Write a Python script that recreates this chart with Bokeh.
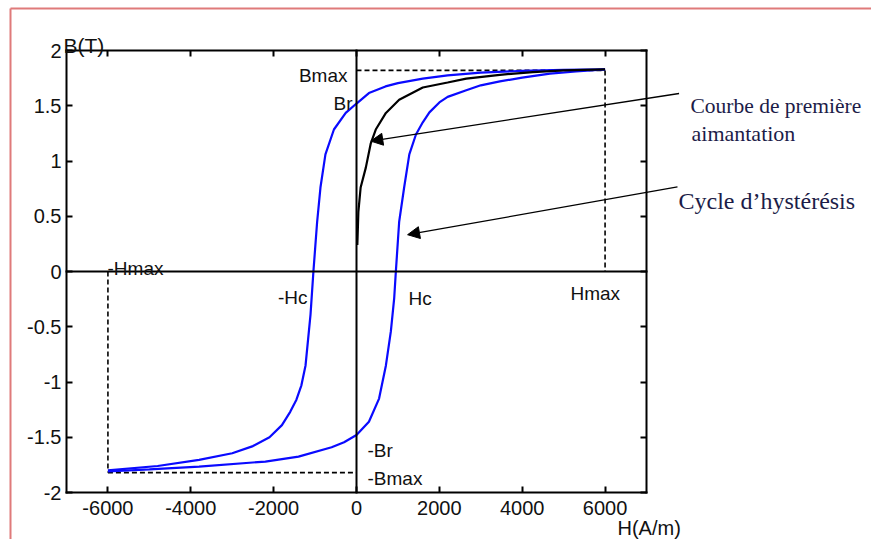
from bokeh.plotting import figure
from bokeh.models import (Range1d, FixedTicker, LinearAxis, Label, Arrow,
                          NormalHead, CustomJSTickFormatter)
from bokeh.embed import file_html
from bokeh.resources import INLINE

# ---------------- data ----------------
# descending (upper) branch of the hysteresis cycle
H_up = [6000, 5000, 4000, 3000, 2200, 1600, 1000, 700, 300, 0, -260, -545, -750, -870,
        -950, -1000, -1040, -1110, -1230, -1330, -1450, -1600, -1800, -2100, -2500,
        -3000, -3800, -4800, -6000]
B_up = [1.83, 1.825, 1.815, 1.80, 1.775, 1.745, 1.705, 1.675, 1.615, 1.52, 1.435, 1.285,
        1.06, 0.76, 0.45, 0.20, 0.0, -0.39, -0.85, -1.03, -1.16, -1.27, -1.39, -1.50,
        -1.58, -1.645, -1.705, -1.76, -1.80]
# ascending (lower) branch of the hysteresis cycle
H_lo = [-6000, -5000, -3800, -2200, -1400, -600, -300, 0, 300, 545, 710, 830, 910, 950,
        1030, 1150, 1275, 1435, 1600, 1760, 2000, 2200, 2650, 3000, 3460, 4000, 4670,
        5300, 6000]
B_lo = [-1.81, -1.79, -1.765, -1.72, -1.675, -1.59, -1.545, -1.48, -1.36, -1.15, -0.85,
        -0.54, -0.24, 0.0, 0.45, 0.76, 1.06, 1.24, 1.35, 1.44, 1.53, 1.58, 1.64, 1.685,
        1.72, 1.755, 1.79, 1.81, 1.83]
# first magnetisation curve
H_first = [20, 25, 45, 100, 225, 345, 465, 710, 1030, 1600, 2200, 2650, 3460, 4260, 5000, 6000]
B_first = [0.24, 0.30, 0.54, 0.76, 0.94, 1.16, 1.285, 1.435, 1.555, 1.665, 1.71, 1.745,
           1.78, 1.805, 1.82, 1.83]

Hmax = 6000
Bmax = 1.82
Br = 1.52
Hc = 1000

x_ticks = [-6000, -4000, -2000, 0, 2000, 4000, 6000]
y_ticks = [-2, -1.5, -1, -0.5, 0, 0.5, 1, 1.5, 2]
x_lim = (-7000, 7000)
y_lim = (-2, 2)

# annotation arrows: (tail H, tail B, tip H, tip B)
arrow_first = (7786, 1.611, 345, 1.18)
arrow_cycle = (7748, 0.765, 1233, 0.333)

# ---------------- layout geometry ----------------
W, Hgt = 871, 539
BOX_L, BOX_R, BOX_T, BOX_B = 66, 646, 50, 492      # pixel box of the axes
kx = (BOX_R - BOX_L) / (x_lim[1] - x_lim[0])
ky = (BOX_B - BOX_T) / (y_lim[1] - y_lim[0])
x0 = x_lim[0] - BOX_L / kx
x1 = x0 + W / kx
y1 = y_lim[1] + BOX_T / ky
y0 = y1 - Hgt / ky

def px2x(px):
    return x0 + px / kx

def px2y(py):
    return y1 - py / ky

p = figure(width=W, height=Hgt, output_backend="svg", toolbar_location=None,
           x_range=Range1d(x0, x1), y_range=Range1d(y0, y1),
           min_border=0, x_axis_location=None, y_axis_location=None,
           background_fill_color="white", border_fill_color="white")
p.grid.visible = False
p.outline_line_color = None

TICK_FONT = "Liberation Sans"
fmt = CustomJSTickFormatter(code="return String(tick);")
blank = CustomJSTickFormatter(code="return '';")

def make_axis(ticks, formatter, loc, bounds):
    ax = LinearAxis(ticker=FixedTicker(ticks=ticks), formatter=formatter,
                    fixed_location=loc, bounds=bounds)
    ax.axis_line_color = "black"
    ax.axis_line_width = 2
    ax.axis_line_cap = "square"
    ax.major_tick_in = 6
    ax.major_tick_out = 0
    ax.major_tick_line_width = 2
    ax.minor_tick_line_color = None
    ax.major_label_text_font = TICK_FONT
    ax.major_label_text_font_size = "20px"
    ax.major_label_text_color = "#111111"
    return ax

xb = make_axis(x_ticks, fmt, y_lim[0], x_lim)
xb.major_label_standoff = 8
p.add_layout(xb, "below")
yl = make_axis(y_ticks, fmt, x_lim[0], y_lim)
yl.major_label_standoff = 5
p.add_layout(yl, "left")
p.add_layout(make_axis(x_ticks, blank, y_lim[1], x_lim), "above")
p.add_layout(make_axis(y_ticks, blank, x_lim[1], y_lim), "right")
# zero axes (no ticks)
p.add_layout(make_axis([], blank, 0, x_lim), "below")
p.add_layout(make_axis([], blank, 0, y_lim), "left")

# page border (decorative frame of the original picture)
p.segment(x0=[px2x(10), px2x(10)], y0=[px2y(8), px2y(8)],
          x1=[px2x(W + 5), px2x(10)], y1=[px2y(8), px2y(Hgt + 5)],
          line_color="#df7a7a", line_width=2)

# dashed guides
dash = "5 3"
p.line([0, Hmax], [Bmax, Bmax], line_color="black", line_width=1.6, line_dash=dash)
p.line([Hmax, Hmax], [Bmax, 0], line_color="black", line_width=1.6, line_dash=dash)
p.line([-Hmax, 0], [-Bmax, -Bmax], line_color="black", line_width=1.6, line_dash=dash)
p.line([-Hmax, -Hmax], [0, -Bmax], line_color="black", line_width=1.6, line_dash=dash)

# curves
p.line(H_up, B_up, line_color="#0a0aff", line_width=2.2)
p.line(H_lo, B_lo, line_color="#0a0aff", line_width=2.2)
p.line(H_first, B_first, line_color="black", line_width=2.2)

# arrows
for (xs, ys, xe, ye) in (arrow_first, arrow_cycle):
    p.add_layout(Arrow(x_start=xs, y_start=ys, x_end=xe, y_end=ye,
                       line_color="black", line_width=1.3,
                       end=NormalHead(size=12, fill_color="black", line_color="black")))

# text labels placed at pixel positions (left/right edge, baseline)
def lab(text, px, py, align="left", size="19px", font=TICK_FONT, color="#111111"):
    p.add_layout(Label(x=px2x(px), y=px2y(py), text=text, text_align=align,
                       text_baseline="alphabetic", text_font=font,
                       text_font_size=size, text_color=color))

lab("B(T)", 63, 45, size="21px")
lab("H(A/m)", 617, 527, size="20px")
lab("Bmax", 347, 75, align="right")
lab("Br", 352, 103, align="right")
lab("-Hc", 307, 297, align="right")
lab("Hc", 408, 298)
lab("Hmax", 570, 293)
lab("-Hmax", 107, 268)
lab("-Br", 367, 450)
lab("-Bmax", 367, 478)

SERIF = "Liberation Serif"
NAVY = "#1c1c48"
lab("Courbe de première", 690, 105, size="21.5px", font=SERIF, color=NAVY)
lab("aimantation", 691, 133, size="22px", font=SERIF, color=NAVY)
lab("Cycle d\u2019hystérésis", 678, 200, size="24px", font=SERIF, color=NAVY)

open("out.html", "w").write(file_html(p, INLINE))
